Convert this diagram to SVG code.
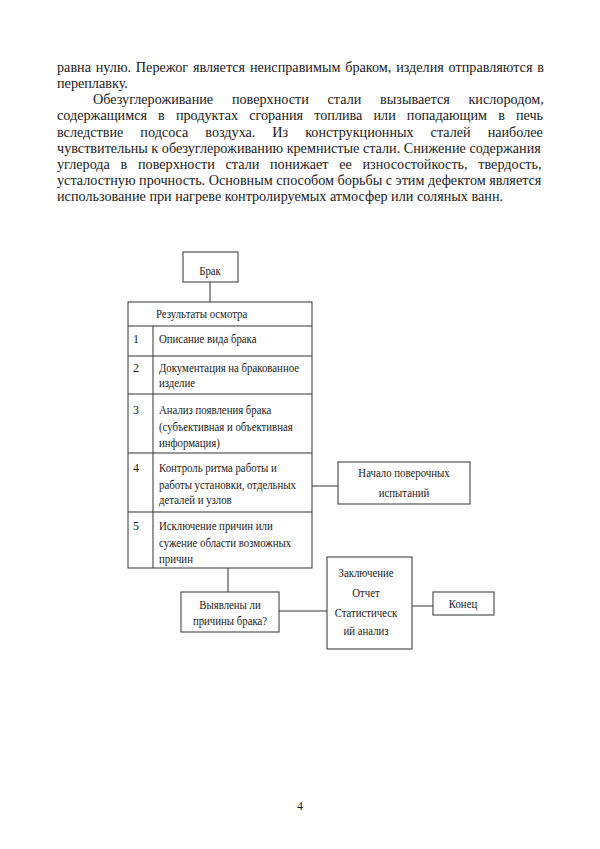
<svg xmlns="http://www.w3.org/2000/svg" width="600" height="849" viewBox="0 0 600 849">
<style>
.p{font-family:"Liberation Serif","Times New Roman",serif;font-size:14.2px;fill:#1a1a1a}
.d{font-family:"Liberation Serif","Times New Roman",serif;font-size:12px;fill:#1a1a1a}
.c{text-anchor:middle}
.box{fill:#fff;stroke:#333;stroke-width:1}
.ln{stroke:#333;stroke-width:1;fill:none}
</style>
<rect width="600" height="849" fill="#fff"/>
<g id="body-text">
<text class="p" x="57" y="72" word-spacing="1.25">равна нулю. Пережог является неисправимым браком, изделия отправляются в</text>
<text class="p" x="57" y="88">переплавку.</text>
<text class="p" x="93" y="104" word-spacing="15.2">Обезуглероживание поверхности стали вызывается кислородом,</text>
<text class="p" x="57" y="120" word-spacing="7.55">содержащимся в продуктах сгорания топлива или попадающим в печь</text>
<text class="p" x="57" y="137" word-spacing="13.4">вследствие подсоса воздуха. Из конструкционных сталей наиболее</text>
<text class="p" x="57" y="153">чувствительны к обезуглероживанию кремнистые стали. Снижение содержания</text>
<text class="p" x="57" y="169" word-spacing="7.15">углерода в поверхности стали понижает ее износостойкость, твердость,</text>
<text class="p" x="57" y="185">усталостную прочность. Основным способом борьбы с этим дефектом является</text>
<text class="p" x="57" y="201">использование при нагреве контролируемых атмосфер или соляных ванн.</text>
</g>
<g id="connectors">
<line class="ln" x1="210" y1="282" x2="210" y2="302"/>
<line class="ln" x1="312" y1="486" x2="338" y2="486"/>
<line class="ln" x1="228" y1="568" x2="228" y2="592"/>
<line class="ln" x1="279" y1="611" x2="327" y2="611"/>
<line class="ln" x1="412" y1="606" x2="433" y2="606"/>
</g>
<g id="node-brak">
<rect class="box" x="183" y="252" width="55" height="30"/>
<text class="d c" transform="translate(210,275) scale(0.9,1)">Брак</text>
</g>
<g id="node-results">
<rect class="box" x="128" y="302" width="184" height="266"/>
<line class="ln" x1="128" y1="326" x2="312" y2="326"/>
<line class="ln" x1="128" y1="356" x2="312" y2="356"/>
<line class="ln" x1="128" y1="394" x2="312" y2="394"/>
<line class="ln" x1="128" y1="453" x2="312" y2="453"/>
<line class="ln" x1="128" y1="512" x2="312" y2="512"/>
<line class="ln" x1="153" y1="326" x2="153" y2="568"/>
<text class="d" transform="translate(156,318) scale(0.9,1)">Результаты осмотра</text>
<text class="d" x="133" y="343">1</text>
<text class="d" x="133" y="372">2</text>
<text class="d" x="133" y="414">3</text>
<text class="d" x="133" y="472">4</text>
<text class="d" x="133" y="530">5</text>
<g transform="translate(159,0) scale(0.9,1)">
<text class="d" x="0" y="343">Описание вида брака</text>
<text class="d" x="0" y="372">Документация на бракованное</text>
<text class="d" x="0" y="387">изделие</text>
<text class="d" x="0" y="414">Анализ появления брака</text>
<text class="d" x="0" y="431">(субъективная и объективная</text>
<text class="d" x="0" y="447">информация)</text>
<text class="d" x="0" y="472">Контроль ритма работы и</text>
<text class="d" x="0" y="489">работы установки, отдельных</text>
<text class="d" x="0" y="504">деталей и узлов</text>
<text class="d" x="0" y="530">Исключение причин или</text>
<text class="d" x="0" y="547">сужение области возможных</text>
<text class="d" x="0" y="563">причин</text>
</g>
</g>
<g id="node-start-tests">
<rect class="box" x="338" y="462" width="132" height="42"/>
<g transform="translate(404,0) scale(0.9,1)">
<text class="d c" x="0" y="477">Начало поверочных</text>
<text class="d c" x="0" y="497">испытаний</text>
</g>
</g>
<g id="node-causes">
<rect class="box" x="181" y="592" width="98" height="40"/>
<g transform="translate(230,0) scale(0.9,1)">
<text class="d c" x="0" y="609">Выявлены ли</text>
<text class="d c" x="0" y="625">причины брака?</text>
</g>
</g>
<g id="node-conclusion">
<rect class="box" x="327" y="557" width="85" height="92"/>
<g transform="translate(366,0) scale(0.9,1)">
<text class="d c" x="0" y="577">Заключение</text>
<text class="d c" x="0" y="597">Отчет</text>
<text class="d c" x="0" y="617">Статистическ</text>
<text class="d c" x="0" y="635">ий анализ</text>
</g>
</g>
<g id="node-end">
<rect class="box" x="433" y="592" width="61" height="23"/>
<text class="d c" transform="translate(463,608) scale(0.9,1)">Конец</text>
</g>
<text class="d c" x="300" y="810">4</text>
</svg>
